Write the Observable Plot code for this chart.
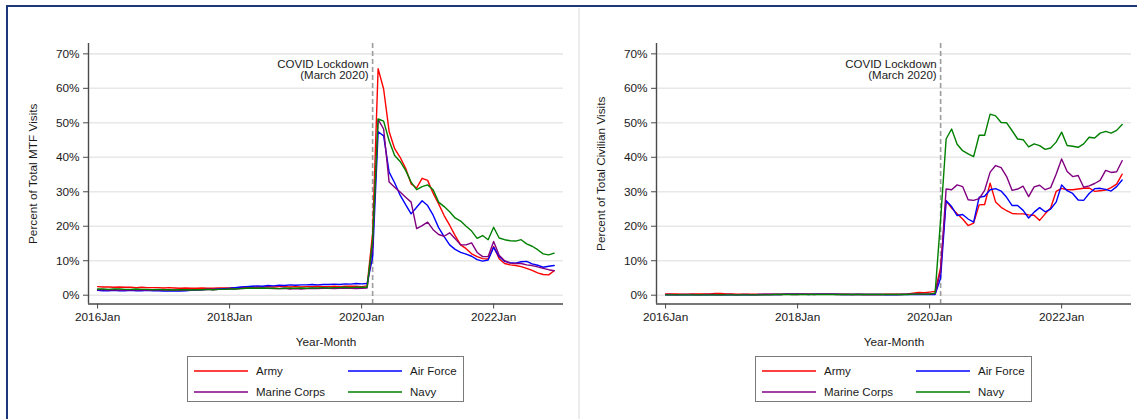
<!DOCTYPE html>
<html>
<head>
<meta charset="utf-8">
<script src="https://cdn.jsdelivr.net/npm/d3@7"></script>
<script src="https://cdn.jsdelivr.net/npm/@observablehq/plot@0.6"></script>
<style>
  html, body { margin: 0; padding: 0; background: #fff; }
  body { font-family: "Liberation Sans", Arial, sans-serif; color: #1a1a1a; }
  #page { position: relative; width: 1137px; height: 419px; overflow: hidden; background: #fff; }
  .border { position: absolute; left: 6px; top: 5px; width: 1200px; height: 500px;
            border-top: 2.5px solid #1c3879; border-left: 2.5px solid #1c3879; }
  .sep { position: absolute; left: 578px; top: 8px; width: 1.5px; height: 420px; background: #ececec; }
  .panel { position: absolute; top: 0; width: 568px; height: 419px; }
  .panel > svg { position: absolute; left: 0; top: 0; }
  .legend { position: absolute; left: 187px; top: 356px; width: 277px; height: 46px;
            box-sizing: border-box; border: 1.2px solid #7a7a7a; background: #fff; }
  .legend svg.sw { position: absolute; width: 54px; height: 4px; }
  .legend .lb { position: absolute; font-size: 11.5px; line-height: 14px; white-space: nowrap; color: #1a1a1a; }
</style>
</head>
<body>
<div id="page">
  <div class="border"></div>
  <div class="sep"></div>
  <div class="panel" id="left"></div>
  <div class="panel" id="right" style="left:568px"></div>
</div>
<script>
// ---- Data (monthly, 2016 Jan .. 2022 Dec; index 0 = 2016 Jan) ----
const seriesNames = ["Army", "Air Force", "Marine Corps", "Navy"];
const seriesColors = ["#ff0000", "#0000ff", "#800080", "#008000"];

const tickMonths = [0, 24, 48, 72];
const tickLabels = ["2016Jan", "2018Jan", "2020Jan", "2022Jan"];
const yTicks = [0, 10, 20, 30, 40, 50, 60, 70];
const lockdownMonth = 50;
const lockdownLabel = "COVID Lockdown\n(March 2020)";
const xLabel = "Year-Month";
const yLabelMTF = "Percent of Total MTF Visits";
const yLabelCiv = "Percent of Total Civilian Visits";

// Percent of total MTF visits
const armyMTF = [
  2.5,2.4,2.4,2.3,2.4,2.3,2.3,2.2,2.3,2.2,2.2,2.2,
  2.1,2.2,2.1,2.0,2.1,2.0,2.0,2.1,2.0,2.0,2.1,2.1,
  2.1,2.2,2.2,2.3,2.3,2.4,2.4,2.5,2.4,2.5,2.5,2.4,
  2.5,2.4,2.5,2.5,2.6,2.5,2.5,2.6,2.5,2.6,2.6,2.6,
  2.5,2.7,
  18,65.7,59.8,47.5,42.5,40.0,36.8,32.3,31.1,33.9,33.3,29.6,26.5,23.1,20.3,
  17.3,14.6,13.5,12.0,11.2,10.6,10.5,14.1,10.6,9.2,8.8,8.6,8.3,7.8,7.2,6.5,6.0,5.9,7.1];
const airForceMTF = [
  1.4,1.3,1.3,1.4,1.3,1.3,1.4,1.3,1.3,1.4,1.3,1.3,
  1.2,1.2,1.3,1.2,1.3,1.4,1.5,1.6,1.7,1.7,1.8,1.9,
  2.0,2.2,2.4,2.5,2.6,2.7,2.6,2.8,2.7,2.9,2.8,3.0,
  2.9,3.0,3.0,3.1,3.0,3.1,3.1,3.2,3.1,3.3,3.2,3.4,
  3.3,3.4,
  11,47.4,46.2,35.7,32.6,29.0,26.3,23.6,25.5,27.4,26.0,23.2,19.6,17.0,14.6,
  13.3,12.4,11.9,11.3,10.3,9.9,10.2,13.9,11.2,9.8,9.4,9.3,9.7,9.8,9.1,8.7,8.1,8.4,8.6];
const marineMTF = [
  1.6,1.6,1.5,1.6,1.5,1.5,1.6,1.5,1.5,1.6,1.5,1.5,
  1.5,1.4,1.5,1.4,1.5,1.5,1.6,1.6,1.7,1.6,1.7,1.7,
  1.8,1.8,1.9,2.0,2.0,2.1,2.0,2.0,1.9,1.9,2.0,1.8,
  1.9,1.8,1.9,2.0,1.9,2.0,2.0,1.9,2.0,2.1,2.0,1.9,
  2.0,2.1,
  14,51.0,48.2,32.8,31.3,29.9,28.4,27.0,19.3,20.2,21.2,19.0,17.6,17.1,18.1,
  16.4,14.6,14.6,15.2,12.4,11.2,11.2,15.6,11.6,10.0,9.3,9.2,9.2,8.8,8.6,8.2,7.8,7.4,7.1];
const navyMTF = [
  1.8,1.8,1.7,1.8,1.8,1.7,1.7,1.8,1.7,1.7,1.6,1.7,
  1.6,1.6,1.5,1.6,1.6,1.5,1.6,1.6,1.7,1.6,1.7,1.7,
  1.8,1.8,1.9,2.0,2.1,2.0,2.1,2.0,2.0,1.9,2.0,2.0,
  2.0,2.1,2.0,2.1,2.1,2.2,2.1,2.2,2.2,2.3,2.2,2.3,
  2.3,2.3,
  16,51.1,50.5,44.8,40.5,38.8,36.2,32.8,30.6,31.5,32.0,30.6,27.0,25.7,24.2,
  22.4,21.5,20.0,18.6,16.5,17.3,16.1,19.7,16.6,16.1,15.8,15.7,16.1,14.9,14.2,13.2,12.0,11.7,12.2];

// Percent of total civilian visits
const armyCiv = [
  0.4,0.4,0.4,0.3,0.3,0.4,0.4,0.4,0.4,0.5,0.5,0.4,
  0.4,0.3,0.3,0.3,0.3,0.3,0.3,0.3,0.3,0.3,0.3,0.4,
  0.4,0.3,0.3,0.3,0.3,0.3,0.3,0.3,0.3,0.3,0.2,0.2,
  0.2,0.2,0.2,0.2,0.3,0.3,0.3,0.3,0.4,0.6,0.8,0.7,
  0.9,1.1,
  8,27.4,25.3,23.6,22.1,20.2,20.9,26.2,26.3,32.5,27.0,25.5,24.5,23.7,23.6,
  23.6,23.3,23.2,21.7,23.6,25.3,30.1,31.0,30.6,30.6,30.8,31.0,31.1,30.1,30.3,30.5,31.2,32.2,35.1];
const airForceCiv = [
  0.1,0.1,0.1,0.1,0.1,0.1,0.1,0.1,0.1,0.1,0.1,0.1,
  0.1,0.1,0.1,0.1,0.1,0.2,0.2,0.2,0.2,0.2,0.3,0.3,
  0.3,0.3,0.2,0.3,0.3,0.3,0.3,0.3,0.2,0.2,0.2,0.2,
  0.2,0.2,0.2,0.2,0.1,0.1,0.1,0.2,0.2,0.2,0.2,0.2,
  0.2,0.2,
  5,27.4,25.7,23.1,23.4,22.1,21.2,28.4,28.7,30.6,30.9,30.2,28.4,26.0,26.0,
  24.6,22.4,24.1,25.4,24.2,25.0,27.0,32.0,30.3,29.5,27.6,27.5,29.5,30.9,31.0,30.7,30.2,31.5,33.4];
const marineCiv = [
  0.2,0.2,0.1,0.2,0.2,0.2,0.1,0.2,0.2,0.2,0.1,0.2,
  0.2,0.1,0.2,0.2,0.1,0.1,0.2,0.2,0.2,0.2,0.3,0.2,
  0.2,0.3,0.3,0.2,0.3,0.3,0.3,0.2,0.2,0.2,0.2,0.3,
  0.2,0.2,0.2,0.2,0.2,0.2,0.2,0.2,0.3,0.3,0.4,0.3,
  0.4,0.5,
  7,30.8,30.6,32.0,31.5,27.7,27.5,28.0,30.4,35.7,37.6,37.0,34.4,30.4,30.8,
  31.6,28.6,31.4,31.9,30.6,31.2,35.1,39.5,35.9,34.4,34.7,31.3,31.7,32.4,33.3,36.2,35.6,35.8,39.0];
const navyCiv = [
  0.1,0.1,0.1,0.1,0.1,0.1,0.1,0.1,0.1,0.1,0.1,0.1,
  0.1,0.1,0.1,0.1,0.1,0.1,0.1,0.1,0.2,0.2,0.2,0.2,
  0.2,0.2,0.2,0.2,0.2,0.2,0.2,0.2,0.2,0.2,0.2,0.2,
  0.2,0.2,0.2,0.2,0.2,0.2,0.2,0.2,0.2,0.3,0.3,0.3,
  0.3,0.6,
  22,45.3,48.2,43.8,41.9,41.0,40.2,46.4,46.4,52.5,52.0,50.1,50.0,47.7,45.3,
  45.1,43.0,43.9,43.4,42.3,42.7,44.4,47.3,43.4,43.2,42.9,43.9,45.8,45.6,47.0,47.5,47.0,47.8,49.5];

// ---- Chart ----
const X_DOMAIN = [-1.65, 84.7];
const Y_DOMAIN = [-2.55, 73];
const FONT = '"Liberation Sans", Arial, sans-serif';
const AXIS_COLOR = "#4a4a4a";
const TEXT_COLOR = "#1a1a1a";
const FS = 11.8;

function toRows(seriesList) {
  const rows = [];
  seriesList.forEach((vals, k) => vals.forEach((v, i) => rows.push({branch: seriesNames[k], m: i, v})));
  return rows;
}

function makeChart(seriesList, yLabel) {
  return Plot.plot({
    width: 568, height: 350,
    marginTop: 43, marginBottom: 46.5, marginLeft: 88, marginRight: 5,
    style: {fontFamily: FONT, fontSize: FS + "px", color: TEXT_COLOR, background: "transparent", overflow: "visible"},
    x: {domain: X_DOMAIN, axis: null},
    y: {domain: Y_DOMAIN, axis: null},
    color: {domain: seriesNames, range: seriesColors},
    marks: [
      Plot.gridY(yTicks, {stroke: "#e8e8e8", strokeOpacity: 1, strokeWidth: 1.6}),
      Plot.ruleX([lockdownMonth], {stroke: "#9c9c9c", strokeWidth: 1.6, strokeDasharray: "5,3"}),
      Plot.text([lockdownLabel], {text: d => d, x: lockdownMonth, y: 68.3, dx: -4, textAnchor: "end",
                                  lineAnchor: "top", lineHeight: 0.97, fontSize: 11.5, fill: TEXT_COLOR}),
      Plot.line(toRows(seriesList), {x: "m", y: "v", z: "branch", stroke: "branch", strokeWidth: 1.4}),
      Plot.ruleY([Y_DOMAIN[0]], {stroke: AXIS_COLOR, strokeWidth: 1.4}),
      Plot.ruleX([X_DOMAIN[0]], {stroke: AXIS_COLOR, strokeWidth: 1.4}),
      Plot.axisY(yTicks, {tickFormat: d => d + "%", tickSize: 5, tickPadding: 4, label: null,
                          stroke: AXIS_COLOR, fill: TEXT_COLOR, fontSize: FS}),
      Plot.axisX(tickMonths, {tickFormat: d => tickLabels[tickMonths.indexOf(d)], tickSize: 5, tickPadding: 4,
                              label: null, stroke: AXIS_COLOR, fill: TEXT_COLOR, fontSize: FS}),
      Plot.text([xLabel], {text: d => d, frameAnchor: "bottom", dy: 38, textAnchor: "middle", lineAnchor: "middle",
                           fontSize: FS, fill: TEXT_COLOR}),
      Plot.text([yLabel], {text: d => d, frameAnchor: "left", dx: -55, rotate: -90, textAnchor: "middle",
                           lineAnchor: "middle", fontSize: FS, fill: TEXT_COLOR})
    ]
  });
}

function makeLegend() {
  const ns = "http://www.w3.org/2000/svg";
  const lg = document.createElement("div");
  lg.className = "legend";
  const pos = [[6, 14], [160, 14], [6, 35], [160, 35]];
  seriesNames.forEach((name, k) => {
    const sw = document.createElementNS(ns, "svg");
    sw.setAttribute("class", "sw");
    sw.setAttribute("width", "54");
    sw.setAttribute("height", "4");
    sw.style.left = pos[k][0] + "px";
    sw.style.top = (pos[k][1] - 2) + "px";
    const ln = document.createElementNS(ns, "line");
    ln.setAttribute("x1", "0"); ln.setAttribute("x2", "54");
    ln.setAttribute("y1", "2"); ln.setAttribute("y2", "2");
    ln.setAttribute("stroke", seriesColors[k]);
    ln.setAttribute("stroke-width", "1.4");
    sw.appendChild(ln);
    const lb = document.createElement("div");
    lb.className = "lb";
    lb.textContent = name;
    lb.style.left = (pos[k][0] + 62) + "px";
    lb.style.top = (pos[k][1] - 7) + "px";
    lg.appendChild(sw); lg.appendChild(lb);
  });
  return lg;
}

const left = document.getElementById("left");
left.appendChild(makeChart([armyMTF, airForceMTF, marineMTF, navyMTF], yLabelMTF));
left.appendChild(makeLegend());
const right = document.getElementById("right");
right.appendChild(makeChart([armyCiv, airForceCiv, marineCiv, navyCiv], yLabelCiv));
right.appendChild(makeLegend());
</script>
</body>
</html>
